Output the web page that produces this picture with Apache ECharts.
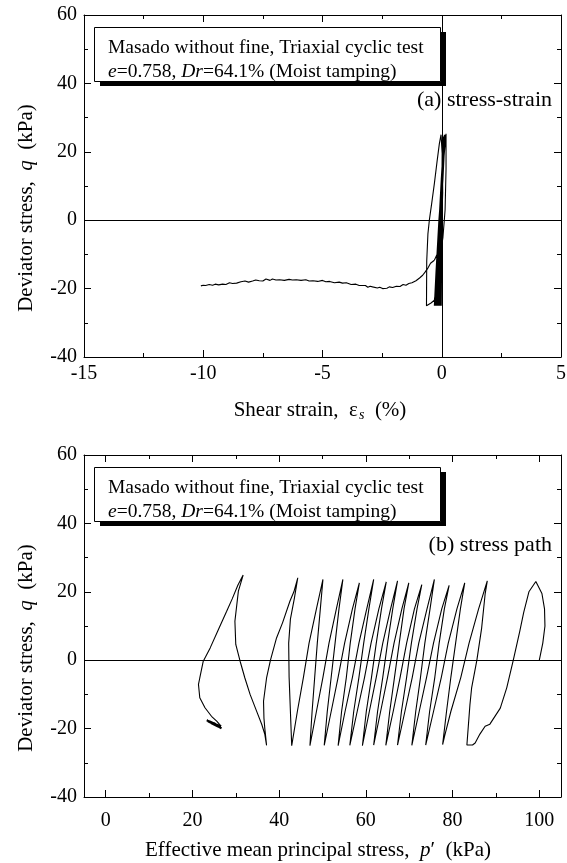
<!DOCTYPE html>
<html><head><meta charset="utf-8">
<script src="https://cdn.jsdelivr.net/npm/echarts@6/dist/echarts.min.js"></script>
<style>html,body{margin:0;padding:0;background:#fff}#c{width:567px;height:863px}</style>
</head><body><div id="c"></div>
<script>
// ---------- DATA ----------
// (a) stress-strain: cyclic part [shear strain %, q kPa]
const cyclicStrainQ = [
[0,0],[0.01,12],[0.02,23],
[0.01,12],[0.0,0],[-0.01,-15],[-0.02,-25],
[-0.01,-15],[0.0,0],[0.01,12],[0.03,23.5],
[0.02,12],[0.0,0],[-0.02,-15],[-0.04,-25],
[-0.03,-15],[-0.01,0],[0.01,12],[0.04,23.5],
[0.02,12],[-0.01,0],[-0.04,-15],[-0.06,-25],
[-0.04,-15],[-0.02,0],[0.01,12],[0.05,24],
[0.02,12],[-0.01,0],[-0.05,-15],[-0.08,-25],
[-0.06,-15],[-0.03,0],[0.0,12],[0.05,24],
[0.02,12],[-0.02,0],[-0.06,-15],[-0.10,-25],
[-0.08,-15],[-0.04,0],[0.0,12],[0.06,24],
[0.02,12],[-0.02,0],[-0.08,-15],[-0.12,-25],
[-0.09,-15],[-0.05,0],[0.0,12],[0.06,24],
[0.02,12],[-0.03,0],[-0.09,-15],[-0.14,-25],
[-0.11,-15],[-0.06,0],[0.0,12],[0.07,24.5],
[0.02,12],[-0.03,0],[-0.10,-15],[-0.16,-25],
[-0.13,-15],[-0.07,0],[-0.01,12],[0.07,24.5],
[0.02,12],[-0.05,0],[-0.13,-15],[-0.19,-25],
[-0.15,-15],[-0.08,0],[-0.01,12],[0.08,24.5],
[0.02,12],[-0.06,0],[-0.15,-15],[-0.22,-25],
[-0.17,-15],[-0.10,0],[-0.02,12],[0.09,24.5],
[0.02,12],[-0.06,0],[-0.17,-15],[-0.25,-25],
[-0.20,-15],[-0.11,0],[-0.02,12],[0.11,25],
[0.03,12],[-0.07,0],[-0.18,-15],[-0.28,-25],
[-0.22,-15],[-0.11,0],[0.0,12],[0.14,25],
[0.05,12],[-0.06,0],[-0.20,-15],[-0.31,-25],
[-0.24,-15],[-0.12,0],[0.01,12],[0.18,25.3],
[0.18,15],[0.14,3],[0.05,-5],[-0.10,-12],[-0.22,-18],[-0.31,-23.4],[-0.45,-24.2],[-0.64,-25],
[-0.63,-12],[-0.58,-4],[-0.52,0],[-0.42,5],[-0.31,10.7],[-0.20,17],[-0.10,22.4],[-0.03,25],
[0.03,18],[0.04,8],[0.0,0],[-0.08,-6],[-0.20,-10],[-0.31,-11.7]
];
// (a) stress-strain: large-strain flow part
const flowStrainQ = [
[-0.31,-11.7],[-0.38,-11.7],[-0.47,-12.6],[-0.59,-14.1],[-0.70,-15.2],[-0.80,-16.1],[-0.93,-16.9],
[-1.08,-17.7],[-1.25,-18.3],[-1.38,-18.5],[-1.50,-19.0],[-1.62,-18.8],[-1.75,-19.4],[-1.90,-19.3],
[-2.06,-19.7],[-2.20,-19.5],[-2.30,-19.9],[-2.48,-20.0],[-2.60,-19.6],[-2.70,-19.8],[-2.90,-19.5],
[-3.00,-19.3],[-3.10,-19.6],[-3.20,-19.1],[-3.46,-19.1],[-3.60,-18.7],[-3.80,-18.8],[-4.00,-18.3],
[-4.16,-18.4],[-4.30,-18.1],[-4.50,-18.3],[-4.70,-17.9],[-4.86,-18.0],[-5.00,-17.6],[-5.20,-17.9],
[-5.40,-17.7],[-5.56,-17.8],[-5.70,-17.4],[-5.90,-17.6],[-6.10,-17.4],[-6.26,-17.5],[-6.40,-17.3],
[-6.60,-17.6],[-6.80,-17.4],[-6.95,-17.5],[-7.10,-17.2],[-7.20,-17.6],[-7.37,-17.2],[-7.50,-17.8],
[-7.65,-17.7],[-7.80,-17.5],[-7.93,-17.8],[-8.10,-18.1],[-8.25,-17.8],[-8.42,-18.0],[-8.60,-18.4],
[-8.77,-18.5],[-8.90,-18.3],[-9.05,-18.8],[-9.19,-18.7],[-9.35,-18.9],[-9.50,-18.7],[-9.61,-19.0],
[-9.75,-18.8],[-9.90,-19.1],[-10.00,-19.0],[-10.10,-19.2]
];
// (b) stress path [p' kPa, q kPa]
const stressPathPQ = [
[100.0,0],[100.8,5],[101.3,10],[101.2,15],[100.6,19.5],[99.2,23],
[97.6,20],[96.4,14],[95.5,8.5],[94.0,0],[92.5,-8],[91.0,-14],[88.6,-18.7],[87.5,-19.3],[86.3,-21.6],[85.2,-24.2],[84.6,-24.8],[83.3,-24.8],
[84.0,-13],[84.4,-8],[85.6,0],[86.7,9.4],[87.5,19.3],[88.0,23.2],
[86.0,15],[83.8,5],[81.9,-5],[79.6,-15],[78.2,-22],[77.7,-24.7],
[78.6,-15],[79.6,-5],[80.7,5],[81.8,15],[82.8,22.6],
[81.0,15],[79.0,5],[77.4,-5],[75.6,-15],[73.8,-24.8],
[74.7,-15],[75.9,-5],[76.9,5],[78.1,15],[79.2,21.9],
[77.5,15],[75.6,5],[74.0,-5],[72.3,-15],[70.6,-24.9],
[71.5,-15],[72.6,-5],[73.6,5],[74.8,15],[75.8,23.6],
[74.1,15],[72.2,5],[70.7,-5],[69.0,-15],[67.3,-24.8],
[68.2,-15],[69.4,-5],[70.5,5],[71.8,15],[72.9,22.1],
[71.2,15],[69.4,5],[67.9,-5],[66.3,-15],[64.6,-24.9],
[65.5,-15],[66.6,-5],[67.7,5],[68.8,15],[69.9,22.6],
[68.3,15],[66.5,5],[65.0,-5],[63.4,-15],[61.8,-24.8],
[62.7,-15],[63.9,-5],[65.0,5],[66.2,15],[67.3,23.2],
[65.7,15],[63.9,5],[62.4,-5],[60.8,-15],[59.2,-25],
[60.1,-15],[61.3,-5],[62.4,5],[63.6,15],[64.7,22.9],
[63.0,15],[61.2,5],[59.7,-5],[58.0,-15],[56.3,-24.9],
[57.2,-15],[58.4,-5],[59.5,5],[60.7,15],[61.8,23.6],
[60.2,15],[58.4,5],[56.9,-5],[55.2,-15],[53.6,-25],
[54.4,-15],[55.5,-5],[56.4,5],[57.5,15],[58.5,22.6],
[56.9,15],[55.1,5],[53.6,-5],[52.0,-15],[50.4,-24.9],
[51.1,-15],[52.0,-5],[52.9,5],[53.8,15],[54.7,23.6],
[53.2,15],[51.5,5],[50.1,-5],[48.6,-15],[47.1,-25],
[47.6,-15],[48.2,-5],[48.8,5],[49.5,15],[50.1,23.6],
[48.6,15],[46.9,5],[45.6,-5],[44.2,-15],[42.9,-25],
[42.6,-15],[42.3,-5],[42.2,5],[42.6,12],[43.5,18],[44.3,24.1],
[43.4,20],[42.5,17.3],[40.8,11],[39.4,6.5],[38.0,0],[37.1,-5.2],[36.4,-12],[36.5,-17],[36.7,-20],[37.1,-24.9],
[36.7,-21.7],[36.0,-18.8],[34.8,-14.9],[33.3,-10],[32.1,-5.2],[31.0,-0.3],[30.0,4.6],[29.8,11.4],[30.6,20.2],[31.7,24.9],
[30.5,22],[29.2,18],[27.9,14.3],[26.0,9],[24.1,3.6],[22.5,-0.3],[21.7,-5.2],[21.4,-7.1],[21.7,-11],[22.9,-13.9],[24.4,-16.4],[25.6,-17.8],[26.6,-19.3]
];
// (b) final blob at failure
const failureBlobPQ = [
[26.6,-19.3],[26.8,-19.8],[25.5,-18.8],[24.0,-17.9],[23.3,-17.6],[24.5,-18.3],[26.2,-19.5],[26.7,-19.9],
[25.2,-18.9],[23.6,-17.9],[23.5,-17.4],[25.0,-18.4],[26.5,-19.6],[25.9,-19.4],[24.3,-18.4]
];
// axes
const strainRange = [-15, 5], strainStep = 5;
const qRange = [-40, 60], qStep = 20;
const pRange = [-5, 105];
const pMajorTicks = [0, 20, 40, 60, 80, 100];
const pMinorTicks = [10, 30, 50, 70, 90];

// ---------- CHART ----------
const FONT = '"Liberation Serif","Times New Roman",serif';
const BLACK = '#000';
const chart = echarts.init(document.getElementById('c'), null, {renderer: 'canvas'});

function lbl(show, margin) {
  return {show: show, color: BLACK, fontFamily: FONT, fontSize: 20, margin: margin};
}
const axLine = {show: true, onZero: false, lineStyle: {color: BLACK, width: 1}};
const noLine = {show: false, onZero: false};
const tick = (len) => ({show: true, inside: true, length: len, lineStyle: {color: BLACK, width: 1}});
const minor = {show: true, splitNumber: 2, length: 4, lineStyle: {color: BLACK, width: 1}};

const xAxes = [
  {gridIndex: 0, type: 'value', position: 'bottom', min: strainRange[0], max: strainRange[1], interval: strainStep,
   axisLine: axLine, axisTick: tick(7), minorTick: minor, axisLabel: lbl(true, 7), splitLine: {show: false}},
  {gridIndex: 0, type: 'value', position: 'top', min: strainRange[0], max: strainRange[1], interval: strainStep,
   axisLine: axLine, axisTick: tick(7), minorTick: minor, axisLabel: lbl(false, 7), splitLine: {show: false}},
  {gridIndex: 1, type: 'value', position: 'bottom', min: pRange[0], max: pRange[1],
   axisLine: axLine, axisTick: Object.assign(tick(7), {customValues: pMajorTicks}),
   axisLabel: Object.assign(lbl(true, 14), {customValues: pMajorTicks}), splitLine: {show: false}},
  {gridIndex: 1, type: 'value', position: 'bottom', min: pRange[0], max: pRange[1],
   axisLine: noLine, axisTick: Object.assign(tick(4), {customValues: pMinorTicks}),
   axisLabel: {show: false}, splitLine: {show: false}},
  {gridIndex: 1, type: 'value', position: 'top', min: pRange[0], max: pRange[1],
   axisLine: axLine, axisTick: Object.assign(tick(7), {customValues: pMajorTicks}),
   axisLabel: {show: false}, splitLine: {show: false}},
  {gridIndex: 1, type: 'value', position: 'top', min: pRange[0], max: pRange[1],
   axisLine: noLine, axisTick: Object.assign(tick(4), {customValues: pMinorTicks}),
   axisLabel: {show: false}, splitLine: {show: false}}
];
const yAxes = [];
[0, 1].forEach(g => {
  yAxes.push({gridIndex: g, type: 'value', position: 'left', min: qRange[0], max: qRange[1], interval: qStep,
    axisLine: axLine, axisTick: tick(7), minorTick: minor, axisLabel: lbl(true, 7), splitLine: {show: false}});
  yAxes.push({gridIndex: g, type: 'value', position: 'right', min: qRange[0], max: qRange[1], interval: qStep,
    axisLine: axLine, axisTick: tick(7), minorTick: minor, axisLabel: lbl(false, 7), splitLine: {show: false}});
});

const lineStyle = {color: BLACK, width: 1.1};
function lineSeries(data, xi, yi, extra) {
  return Object.assign({type: 'line', data: data, xAxisIndex: xi, yAxisIndex: yi, showSymbol: false, symbol: 'none',
    lineStyle: lineStyle, itemStyle: {color: BLACK}, animation: false, silent: true, clip: true}, extra || {});
}
function refLines(items) {
  return {markLine: {silent: true, symbol: ['none', 'none'], label: {show: false}, animation: false,
    lineStyle: {color: BLACK, width: 1, type: 'solid'}, data: items}};
}

const T = (o) => Object.assign({fill: BLACK, fontFamily: FONT}, o);
const rich = (fs) => ({
  i: {fontStyle: 'italic', fontFamily: FONT, fontSize: fs, fill: BLACK},
  n: {fontFamily: FONT, fontSize: fs, fill: BLACK},
  sub: {fontStyle: 'italic', fontFamily: FONT, fontSize: 14, fill: BLACK, padding: [11, 0, 0, 1]}
});

function legendBox(top) {
  return [
    {type: 'rect', shape: {x: 100, y: top + 5, width: 346, height: 54}, style: {fill: BLACK}, silent: true},
    {type: 'rect', shape: {x: 94.5, y: top + 0.5, width: 346, height: 54}, style: {fill: '#fff', stroke: BLACK, lineWidth: 1}, silent: true},
    {type: 'text', x: 108, y: top + 21, silent: true,
     style: T({text: 'Masado without fine, Triaxial cyclic test', fontSize: 19.5, verticalAlign: 'middle'})},
    {type: 'text', x: 108, y: top + 45, silent: true,
     style: T({text: '{i|e}{n|=0.758, }{i|Dr}{n|=64.1% (Moist tamping)}', fontSize: 19.5, verticalAlign: 'middle', rich: rich(19.5)})}
  ];
}

const option = {
  backgroundColor: '#fff',
  animation: false,
  grid: [
    {left: 84, top: 15, width: 477, height: 342, outerBoundsMode: 'none', containLabel: false},
    {left: 84, top: 455, width: 477, height: 342, outerBoundsMode: 'none', containLabel: false}
  ],
  xAxis: xAxes,
  yAxis: yAxes,
  series: [
    lineSeries(cyclicStrainQ, 0, 0, refLines([{yAxis: 0}, {xAxis: 0}])),
    lineSeries(flowStrainQ, 0, 0),
    lineSeries(stressPathPQ, 2, 2, refLines([{yAxis: 0}])),
    lineSeries(failureBlobPQ, 2, 2, {lineStyle: {color: BLACK, width: 2}})
  ],
  graphic: [].concat(
    legendBox(27),
    legendBox(467),
    [
      {type: 'text', x: 552, y: 100, silent: true, style: T({text: '(a) stress-strain', fontSize: 22, align: 'right', verticalAlign: 'middle'})},
      {type: 'text', x: 552, y: 545, silent: true, style: T({text: '(b) stress path', fontSize: 22, align: 'right', verticalAlign: 'middle'})},
      {type: 'text', x: 320, y: 410, silent: true,
       style: T({text: '{n|Shear strain,  ε}{sub|s}{n|  (%)}', fontSize: 21, align: 'center', verticalAlign: 'middle', rich: rich(21)})},
      {type: 'text', x: 318, y: 850, silent: true,
       style: T({text: '{n|Effective mean principal stress,  }{i|p}{n|′  (kPa)}', fontSize: 21, align: 'center', verticalAlign: 'middle', rich: rich(21)})},
      {type: 'text', x: 26, y: 208, rotation: Math.PI / 2, silent: true,
       style: T({text: '{n|Deviator stress,  }{i|q}{n|  (kPa)}', fontSize: 21, align: 'center', verticalAlign: 'middle', rich: rich(21)})},
      {type: 'text', x: 26, y: 648, rotation: Math.PI / 2, silent: true,
       style: T({text: '{n|Deviator stress,  }{i|q}{n|  (kPa)}', fontSize: 21, align: 'center', verticalAlign: 'middle', rich: rich(21)})}
    ]
  )
};
chart.setOption(option);
</script></body></html>
